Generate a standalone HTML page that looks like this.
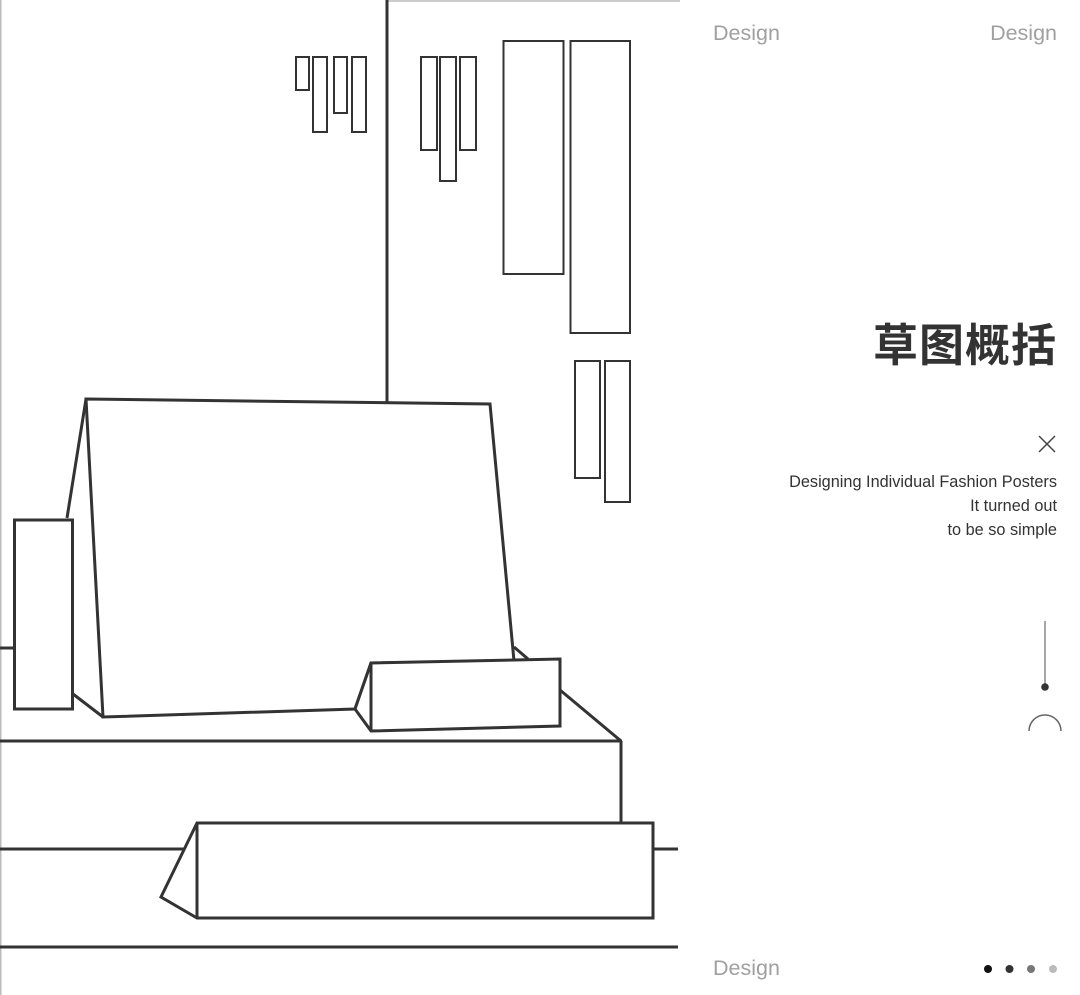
<!DOCTYPE html>
<html><head><meta charset="utf-8"><style>
html,body{margin:0;padding:0;background:#fff;}
body{width:1080px;height:995px;position:relative;overflow:hidden;font-family:"Liberation Sans","Noto Sans CJK SC",sans-serif;}
svg{position:absolute;left:0;top:0;}
.t{position:absolute;white-space:nowrap;}
</style></head><body>
<svg width="1080" height="995" viewBox="0 0 1080 995">
<g fill="none" stroke="#bbb" stroke-width="1.5">
<line x1="0.75" y1="0" x2="0.75" y2="995"/>
<line x1="386" y1="1" x2="680" y2="1"/>
</g>
<g fill="#fff" stroke="#333" stroke-width="3" stroke-linejoin="miter">
<line x1="387" y1="0" x2="387" y2="402"/>
<line x1="0" y1="648" x2="15" y2="648"/>
<line x1="0" y1="741" x2="622" y2="741"/>
<line x1="621" y1="741" x2="621" y2="823"/>
<line x1="0" y1="849" x2="190" y2="849"/>
<line x1="652" y1="849" x2="678" y2="849"/>
<line x1="0" y1="947" x2="678" y2="947"/>
<polyline points="86,399 67,518"/>
<polyline points="73,694 103,717"/>
<polygon points="86,399 490,404 514,661 371,663 355,709 103,717"/>
<line x1="514" y1="647" x2="528" y2="659"/>
<line x1="560" y1="690" x2="621" y2="741"/>
<polygon points="355,709 371,663 560,659 560,726 371,731"/>
<line x1="371" y1="663" x2="371" y2="731"/>
<rect x="14.5" y="520" width="58" height="189"/>
<polygon points="161,897 197,823 653,823 653,918 197,918"/>
<line x1="197" y1="823" x2="197" y2="918"/>
</g>
<g fill="none" stroke="#333" stroke-width="2">
<rect x="296" y="57" width="13" height="33"/>
<rect x="313" y="57" width="14" height="75"/>
<rect x="334" y="57" width="13" height="56"/>
<rect x="352" y="57" width="14" height="75"/>
<rect x="421" y="57" width="16" height="93"/>
<rect x="440" y="57" width="16" height="124"/>
<rect x="460" y="57" width="16" height="93"/>
<rect x="503.5" y="41" width="60" height="233"/>
<rect x="570.5" y="41" width="59.5" height="292"/>
<rect x="575" y="361" width="25" height="117"/>
<rect x="605" y="361" width="25" height="141"/>
</g>
<g stroke="#444" stroke-width="1.5" fill="none">
<line x1="1039" y1="436" x2="1055" y2="452"/>
<line x1="1055" y1="436" x2="1039" y2="452"/>
</g>
<line x1="1045" y1="621" x2="1045" y2="687" stroke="#888" stroke-width="1.5"/>
<circle cx="1045" cy="687" r="3.8" fill="#333"/>
<path d="M1029 731 A16 16 0 0 1 1061 731" fill="none" stroke="#666" stroke-width="1.5"/>
<circle cx="988" cy="969" r="4" fill="#111"/>
<circle cx="1009.5" cy="969" r="4" fill="#333"/>
<circle cx="1031" cy="969" r="4" fill="#777"/>
<circle cx="1053" cy="969" r="4" fill="#bbb"/>
</svg>
<div class="t" style="left:713px;top:21px;font-size:21.5px;color:#a0a0a0;">Design</div>
<div class="t" style="right:23px;top:21px;font-size:21.5px;color:#a0a0a0;">Design</div>
<div class="t" style="left:713px;top:956px;font-size:21.5px;color:#a0a0a0;">Design</div>
<div class="t" style="right:23px;top:309px;font-size:45px;font-weight:bold;color:#333;letter-spacing:1px;font-family:'Noto Sans CJK SC',sans-serif;">草图概括</div>
<div class="t" style="right:23px;top:470px;font-size:16.3px;line-height:24px;color:#333;text-align:right;">Designing Individual Fashion Posters<br>It turned out<br>to be so simple</div>
</body></html>
